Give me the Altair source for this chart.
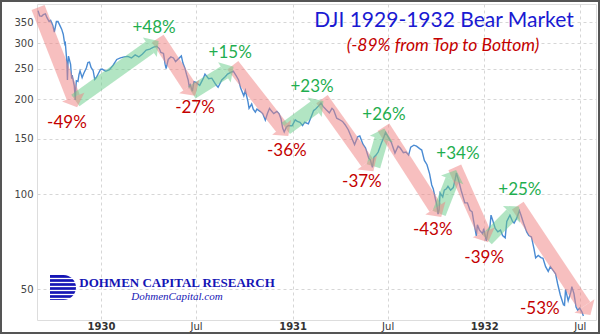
import math
import datetime as dt
import altair as alt
import pandas as pd

# ---------------- data ----------------
dates_1929 = ["1929-09-03", "1929-09-06", "1929-09-10", "1929-09-13", "1929-09-17", "1929-09-20",
              "1929-09-24", "1929-09-27", "1929-10-01", "1929-10-04", "1929-10-08", "1929-10-11",
              "1929-10-15", "1929-10-18", "1929-10-21", "1929-10-23", "1929-10-24", "1929-10-25",
              "1929-10-28", "1929-10-29", "1929-10-30", "1929-10-31", "1929-11-04", "1929-11-06",
              "1929-11-07", "1929-11-11", "1929-11-12", "1929-11-13", "1929-11-14", "1929-11-15",
              "1929-11-18", "1929-11-20", "1929-11-22", "1929-11-26", "1929-11-29", "1929-12-04",
              "1929-12-07", "1929-12-10", "1929-12-13", "1929-12-17", "1929-12-20", "1929-12-23",
              "1929-12-27", "1929-12-31"]
close_1929 = [381.2, 367.0, 366.0, 370.0, 372.0, 362.0,
              352.0, 355.0, 343.0, 326.0, 352.0, 352.0,
              341.0, 333.0, 321.0, 305.0, 299.0, 301.0,
              260.6, 230.1, 258.5, 273.5, 257.7, 232.1,
              238.0, 220.4, 209.7, 198.7, 217.3, 228.7,
              227.6, 239.0, 245.7, 234.0, 241.0, 251.0,
              261.0, 262.0, 252.0, 246.0, 230.9, 234.0,
              241.0, 248.5]

dates_1930 = ["1930-01-03", "1930-01-10", "1930-01-17", "1930-01-24", "1930-01-31", "1930-02-07",
              "1930-02-14", "1930-02-21", "1930-02-28", "1930-03-07", "1930-03-14", "1930-03-21",
              "1930-03-28", "1930-04-04", "1930-04-11", "1930-04-17", "1930-04-22", "1930-04-25",
              "1930-04-30", "1930-05-03", "1930-05-05", "1930-05-09", "1930-05-14", "1930-05-19",
              "1930-05-23", "1930-06-03", "1930-06-06", "1930-06-10", "1930-06-13", "1930-06-16",
              "1930-06-18", "1930-06-20", "1930-06-24", "1930-06-27", "1930-07-01", "1930-07-08",
              "1930-07-15", "1930-07-18", "1930-07-25", "1930-07-31", "1930-08-08", "1930-08-12",
              "1930-08-19", "1930-08-26", "1930-08-30", "1930-09-05", "1930-09-10", "1930-09-15",
              "1930-09-20", "1930-09-24", "1930-09-30", "1930-10-03", "1930-10-08", "1930-10-10",
              "1930-10-15", "1930-10-18", "1930-10-22", "1930-10-25", "1930-10-31", "1930-11-05",
              "1930-11-10", "1930-11-14", "1930-11-18", "1930-11-21", "1930-11-26", "1930-12-02",
              "1930-12-06", "1930-12-10", "1930-12-13", "1930-12-16", "1930-12-20", "1930-12-24",
              "1930-12-31"]
close_1930 = [249.0, 245.0, 248.0, 256.0, 267.0, 270.0,
              272.0, 273.0, 270.0, 276.0, 272.0, 278.0,
              286.0, 288.0, 292.0, 294.1, 289.0, 281.0,
              279.0, 258.0, 249.8, 267.0, 272.0, 270.0,
              263.0, 274.0, 260.0, 250.0, 239.0, 230.0,
              219.0, 222.0, 211.8, 227.0, 226.0, 221.0,
              233.0, 240.0, 232.0, 233.0, 222.0, 218.0,
              230.0, 236.0, 240.0, 243.0, 245.1, 238.0,
              230.0, 217.0, 204.9, 213.0, 196.0, 187.0,
              193.0, 186.0, 182.0, 186.0, 183.0, 180.0,
              171.6, 180.0, 187.0, 184.0, 180.0, 183.0,
              180.0, 173.0, 162.0, 157.5, 163.0, 165.0,
              164.6]

dates_1931 = ["1931-01-06", "1931-01-10", "1931-01-15", "1931-01-20", "1931-01-24", "1931-01-31",
              "1931-02-06", "1931-02-10", "1931-02-14", "1931-02-19", "1931-02-24", "1931-02-28",
              "1931-03-06", "1931-03-12", "1931-03-17", "1931-03-20", "1931-03-26", "1931-03-31",
              "1931-04-06", "1931-04-11", "1931-04-17", "1931-04-24", "1931-04-29", "1931-05-05",
              "1931-05-09", "1931-05-15", "1931-05-20", "1931-05-26", "1931-05-29", "1931-06-02",
              "1931-06-05", "1931-06-09", "1931-06-13", "1931-06-19", "1931-06-23", "1931-06-27",
              "1931-07-02", "1931-07-08", "1931-07-15", "1931-07-21", "1931-07-25", "1931-07-31",
              "1931-08-05", "1931-08-10", "1931-08-14", "1931-08-20", "1931-08-25", "1931-08-31",
              "1931-09-04", "1931-09-09", "1931-09-14", "1931-09-19", "1931-09-23", "1931-09-26",
              "1931-09-30", "1931-10-03", "1931-10-05", "1931-10-07", "1931-10-09", "1931-10-14",
              "1931-10-17", "1931-10-21", "1931-10-24", "1931-10-29", "1931-11-03", "1931-11-07",
              "1931-11-09", "1931-11-13", "1931-11-18", "1931-11-21", "1931-11-25", "1931-11-30",
              "1931-12-05", "1931-12-09", "1931-12-12", "1931-12-17", "1931-12-19", "1931-12-23",
              "1931-12-29", "1931-12-31"]
close_1931 = [172.0, 170.0, 169.0, 165.0, 169.0, 167.0,
              177.0, 184.0, 186.0, 190.0, 194.4, 189.7,
              185.0, 181.0, 187.0, 185.0, 174.0, 172.4,
              170.0, 166.0, 160.0, 150.0, 143.6, 152.0,
              153.0, 144.0, 140.0, 130.0, 128.5, 121.7,
              131.0, 133.0, 136.0, 145.0, 150.3, 156.9,
              152.0, 146.0, 135.0, 142.0, 140.0, 135.4,
              136.0, 133.0, 141.0, 143.0, 142.0, 139.4,
              138.0, 128.0, 124.0, 116.0, 107.0, 104.0,
              96.6, 92.0, 86.5, 89.0, 101.0, 98.0,
              103.0, 104.0, 106.0, 103.0, 105.0, 112.0,
              116.8, 111.0, 103.0, 99.0, 94.0, 93.9,
              89.0, 88.0, 82.0, 73.8, 80.0, 77.0,
              75.0, 77.9]

dates_1932 = ["1932-01-05", "1932-01-08", "1932-01-12", "1932-01-14", "1932-01-19", "1932-01-22",
              "1932-01-27", "1932-02-01", "1932-02-05", "1932-02-10", "1932-02-13", "1932-02-19",
              "1932-02-24", "1932-02-27", "1932-03-03", "1932-03-08", "1932-03-11", "1932-03-16",
              "1932-03-22", "1932-03-26", "1932-03-31", "1932-04-05", "1932-04-08", "1932-04-13",
              "1932-04-18", "1932-04-22", "1932-04-27", "1932-05-02", "1932-05-06", "1932-05-11",
              "1932-05-16", "1932-05-20", "1932-05-25", "1932-05-31", "1932-06-02", "1932-06-04",
              "1932-06-09", "1932-06-14", "1932-06-16", "1932-06-20", "1932-06-24", "1932-06-27",
              "1932-07-01", "1932-07-05", "1932-07-08"]
close_1932 = [71.2, 76.0, 79.0, 85.9, 81.0, 78.0,
              76.0, 77.0, 74.0, 72.8, 82.0, 85.8,
              82.0, 81.0, 84.0, 88.8, 86.0, 81.0,
              76.0, 74.0, 73.3, 67.0, 62.9, 64.0,
              63.0, 62.7, 59.0, 57.0, 59.0, 57.5,
              56.0, 52.0, 48.0, 44.7, 44.5, 50.0,
              46.0, 49.0, 51.0, 48.5, 44.0, 43.0,
              43.6, 42.5, 41.2]

# trend arrows (start -> end of band; head drawn beyond the end)
arrow_kind = ["down", "up", "down", "up", "down", "up", "down", "up", "down", "up", "down", "up", "down"]
arrow_start_date = ["1929-09-03", "1929-11-13", "1930-04-19", "1930-06-23", "1930-09-09", "1930-12-19",
                    "1931-02-26", "1931-06-04", "1931-06-23", "1931-10-07", "1931-11-06", "1932-01-06",
                    "1932-03-05"]
arrow_start_value = [390, 198, 311, 210, 256, 161.7, 200, 122.6, 163, 87, 121.6, 72, 92]
arrow_end_date = ["1929-11-09", "1930-04-04", "1930-06-18", "1930-08-24", "1930-12-11", "1931-02-12",
                  "1931-05-23", "1931-06-19", "1931-09-30", "1931-11-01", "1931-12-31", "1932-02-22",
                  "1932-07-10"]
arrow_end_value = [203, 292, 219, 243, 162.7, 188.5, 126, 149.6, 90.5, 111, 75.8, 86.4, 44.3]

# percentage annotations
label_text = ["-49%", "+48%", "-27%", "+15%", "-36%", "+23%", "-37%", "+26%", "-43%", "+34%",
              "-39%", "+25%", "-53%"]
label_kind = ["down", "up", "down", "up", "down", "up", "down", "up", "down", "up", "down", "up", "down"]
label_date = ["1929-10-28", "1930-04-12", "1930-06-29", "1930-09-04", "1930-12-21", "1931-02-07",
              "1931-05-13", "1931-06-24", "1931-09-25", "1931-11-12", "1932-01-01", "1932-03-09",
              "1932-04-16"]
label_value = [167.7, 335, 188, 279, 137, 219, 109, 178, 76.8, 134, 63, 103, 43.2]

y_ticks = [50, 100, 150, 200, 250, 300, 350]

# ---------------- layout / styles ----------------
W, H = 559, 316
X0, X1 = "1929-09-01", "1932-08-01"
Y0, Y1 = 40, 400
BAND_COLOR = {"down": "#f08080", "up": "#66cc88"}
TEXT_COLOR = {"down": "#c40000", "up": "#1fae4f"}
LINE_COLOR = "#4a8bd3"

x_scale = alt.Scale(type="utc",
                    domain=[alt.DateTime(year=1929, month=9, date=1, utc=True),
                            alt.DateTime(year=1932, month=8, date=1, utc=True)])
y_scale = alt.Scale(type="log", domain=[Y0, Y1], nice=False)

x_axis = alt.Axis(
    values=[alt.DateTime(year=y, month=m, date=1, utc=True)
            for y, m in [(1930, 1), (1930, 7), (1931, 1), (1931, 7), (1932, 1), (1932, 7)]],
    labelExpr="utcFormat(datum.value, utcmonth(datum.value) == 0 ? '%Y' : '%b')",
    labelFontWeight={"condition": {"test": "utcmonth(datum.value) == 0", "value": "bold"}, "value": "normal"},
    title=None, grid=True, gridDash=[3, 3], gridColor="#d6d6d6", gridWidth=1,
    ticks=False, domain=False, labelFont="DejaVu Sans", labelFontSize=10,
    labelColor="#333", labelPadding=1, labelOverlap=False, labelBound=False, labelFlush=False,
)
y_axis = alt.Axis(
    values=y_ticks, format="d", title=None, grid=True, gridDash=[3, 3], gridColor="#d6d6d6",
    gridWidth=1, ticks=False, domain=False, labelFont="DejaVu Sans", labelFontSize=10,
    labelColor="#444", labelPadding=4,
)


def X(field):
    return alt.X(field, type="temporal", scale=x_scale, axis=x_axis)


def Y(field):
    return alt.Y(field, type="quantitative", scale=y_scale, axis=y_axis)


# ---------------- frames ----------------
line_df = pd.DataFrame({
    "date": dates_1929 + dates_1930 + dates_1931 + dates_1932,
    "close": close_1929 + close_1930 + close_1931 + close_1932,
})

d0 = dt.date.fromisoformat(X0)
span_days = (dt.date.fromisoformat(X1) - d0).days


def to_px(d, v):
    px = (dt.date.fromisoformat(d) - d0).days / span_days * W
    py = H * (math.log(Y1) - math.log(v)) / (math.log(Y1) - math.log(Y0))
    return px, py


angles = []
for sd, sv, ed, ev in zip(arrow_start_date, arrow_start_value, arrow_end_date, arrow_end_value):
    ax, ay = to_px(sd, sv)
    bx, by = to_px(ed, ev)
    angles.append(math.degrees(math.atan2(bx - ax, -(by - ay))) % 360)

arrow_df = pd.DataFrame({
    "sd": arrow_start_date, "sv": arrow_start_value,
    "ed": arrow_end_date, "ev": arrow_end_value,
    "col": [BAND_COLOR[k] for k in arrow_kind],
    "angle": angles,
})

label_df = pd.DataFrame({
    "date": label_date, "value": label_value, "text": label_text,
    "col": [TEXT_COLOR[k] for k in label_kind],
})

one = pd.DataFrame({"a": [0]})

# ---------------- layers ----------------
line = alt.Chart(line_df).mark_line(color=LINE_COLOR, strokeWidth=1.4).encode(
    x=X("date"), y=Y("close"))

bands = alt.Chart(arrow_df).mark_rule(strokeWidth=14, opacity=0.5, strokeCap="butt").encode(
    x=X("sd"), y=Y("sv"), x2="ed", y2="ev", color=alt.Color("col:N", scale=None))

heads = alt.Chart(arrow_df).mark_point(
    shape="M-1,0L1,0L0,-0.9Z", filled=True, size=576, opacity=0.5, strokeWidth=0
).encode(x=X("ed"), y=Y("ev"), angle=alt.Angle("angle:Q", scale=None),
         color=alt.Color("col:N", scale=None))

labels = alt.Chart(label_df).mark_text(font="Lato", fontSize=17, baseline="middle").encode(
    x=X("date"), y=Y("value"), text="text:N", color=alt.Color("col:N", scale=None))

title = alt.Chart(one).mark_text(
    text="DJI 1929-1932 Bear Market", font="Lato", fontSize=21, color="#1a1ad2",
    align="center", baseline="middle").encode(x=alt.value(407), y=alt.value(17))

subtitle = alt.Chart(one).mark_text(
    text="(-89% from Top to Bottom)", font="Lato", fontSize=17.5, fontStyle="italic",
    color="#c40000", align="center", baseline="middle").encode(x=alt.value(406), y=alt.value(42))

logo_rect = alt.Chart(one).mark_rect(color="#1515b5").encode(
    x=alt.value(13), x2=alt.value(27), y=alt.value(271), y2=alt.value(296))
logo_arc = alt.Chart(one).mark_point(
    shape="M0,-1A1,1 0 0,1 0,1Z", filled=True, size=625, color="#1515b5", opacity=1, strokeWidth=0
).encode(x=alt.value(26.5), y=alt.value(283.5))
stripe_df = pd.DataFrame({"yy": [274.5, 278.5, 282.5, 286.5, 290.5, 294.5]})
logo_stripes = alt.Chart(stripe_df).mark_rule(color="white", strokeWidth=1.3).encode(
    x=alt.value(12), x2=alt.value(41), y=alt.Y("yy:Q", scale=None, axis=None))

logo_text1 = alt.Chart(one).mark_text(
    text="DOHMEN CAPITAL RESEARCH", font="Liberation Serif", fontWeight="bold", fontSize=13,
    color="#1515b5", align="center", baseline="middle").encode(x=alt.value(140), y=alt.value(278.5))
logo_text2 = alt.Chart(one).mark_text(
    text="DohmenCapital.com", font="Liberation Serif", fontStyle="italic", fontSize=11,
    color="#1515b5", align="center", baseline="middle").encode(x=alt.value(140), y=alt.value(292.5))

frame = alt.Chart(one).mark_rect(fillOpacity=0, stroke="#555555", strokeWidth=2).encode(
    x=alt.value(-36), x2=alt.value(W + 3), y=alt.value(-3), y2=alt.value(H + 13))

chart = alt.layer(
    line, bands, heads, labels, title, subtitle,
    logo_rect, logo_arc, logo_stripes, logo_text1, logo_text2, frame
).properties(
    width=W, height=H,
    autosize=alt.AutoSizeParams(type="none"),
    padding={"left": 37, "top": 4, "right": 4, "bottom": 14},
).configure_view(stroke=None).configure(background="white")

chart.save("out.html", embed_options={"renderer": "svg", "actions": False})
